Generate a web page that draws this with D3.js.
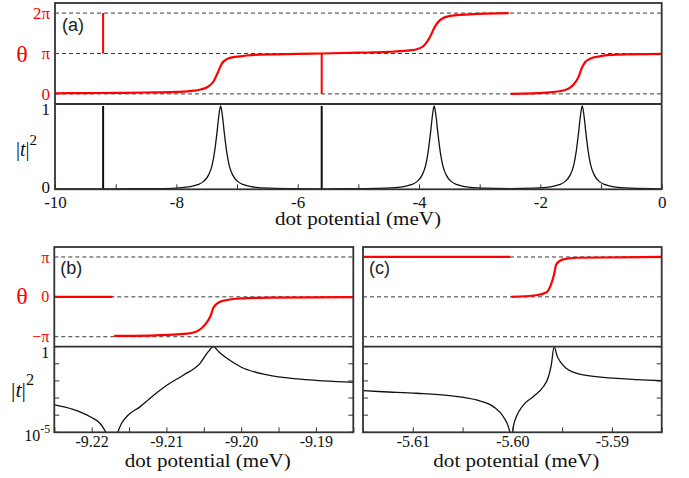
<!DOCTYPE html>
<html><head><meta charset="utf-8">
<script src="https://cdn.jsdelivr.net/npm/d3@7"></script>
</head><body style="margin:0">
<script>
// ---------------- DATA ----------------
// Panel (a): phase θ (units of π) vs dot potential (meV)
const aThetaSeg1 = [[-10,0.015],[-9.5,0.02],[-9,0.025],[-8.5,0.035],[-8,0.05],[-7.7,0.08],[-7.6,0.11],[-7.5,0.16],[-7.39,0.3],[-7.31,0.55],[-7.25,0.75],[-7.17,0.86],[-7.06,0.91],[-6.95,0.93],[-6.84,0.95],[-6.5,0.98],[-6,0.99],[-5.6,1.0],[-5,1.02],[-4.5,1.04],[-4.2,1.07],[-4.05,1.1],[-3.93,1.18],[-3.82,1.41],[-3.74,1.66],[-3.65,1.83],[-3.49,1.93],[-3.16,1.97],[-2.52,2.0]];
const aThetaSeg2 = [[-2.49,0.0],[-1.84,0.04],[-1.57,0.11],[-1.46,0.22],[-1.37,0.42],[-1.32,0.63],[-1.26,0.79],[-1.18,0.87],[-1.02,0.93],[-0.74,0.97],[0,0.99]];
const aThetaJumps = [[[-9.207,1],[-9.207,2]],[[-5.604,0],[-5.604,1]]];
// Panel (a): transmission |t|^2
const aTrans = [[-10,0.004],[-9.5,0.005],[-9,0.006],[-8.5,0.008],[-8.07,0.012],[-7.77,0.032],[-7.65,0.055],[-7.55,0.095],[-7.47,0.17],[-7.41,0.29],[-7.37,0.45],[-7.33,0.68],[-7.30,0.88],[-7.27,1],[-7.24,0.88],[-7.21,0.68],[-7.17,0.45],[-7.13,0.29],[-7.07,0.17],[-6.99,0.095],[-6.89,0.055],[-6.77,0.032],[-6.47,0.013],[-6.0,0.007],[-5.5,0.006],[-5.0,0.008],[-4.55,0.013],[-4.25,0.032],[-4.13,0.055],[-4.03,0.095],[-3.95,0.17],[-3.89,0.29],[-3.85,0.45],[-3.81,0.68],[-3.78,0.88],[-3.75,1],[-3.72,0.88],[-3.69,0.68],[-3.65,0.45],[-3.61,0.29],[-3.55,0.17],[-3.47,0.095],[-3.37,0.055],[-3.25,0.032],[-2.95,0.013],[-2.5,0.008],[-2.11,0.013],[-1.81,0.032],[-1.69,0.055],[-1.59,0.095],[-1.51,0.17],[-1.45,0.29],[-1.41,0.45],[-1.37,0.68],[-1.34,0.88],[-1.31,1],[-1.28,0.88],[-1.25,0.68],[-1.21,0.45],[-1.17,0.29],[-1.11,0.17],[-1.03,0.095],[-0.93,0.055],[-0.81,0.032],[-0.51,0.013],[0,0.006]];
const aFano = [[[-9.207,0],[-9.207,1]],[[-5.604,0],[-5.604,1]]];
const aXTicks = [-10,-8,-6,-4,-2,0];
const aXLabels = ["-10","-8","-6","-4","-2","0"];
const aXMinor = [-9,-7,-5,-3,-1];
const aThetaLevels = [0,1,2];
const aThetaLabels = ["0","\u03c0","2\u03c0"];
const aTLevels = [0,1];
const aTLabels = ["0","1"];

// Panel (b)
const bThetaSeg1 = [[-9.225,0],[-9.2172,0]];
const bThetaSeg2 = [[-9.2170,-0.98],[-9.2122,-0.97],[-9.2077,-0.93],[-9.2059,-0.86],[-9.2048,-0.69],[-9.2041,-0.48],[-9.2037,-0.27],[-9.2030,-0.14],[-9.2019,-0.08],[-9.2001,-0.04],[-9.1961,-0.02],[-9.185,-0.005]];
// log10 |t|^2
const bLogTLeft = [[-9.2250,-3.40],[-9.2225,-3.66],[-9.2202,-4.09],[-9.2189,-4.47],[-9.2184,-4.77],[-9.2180,-5.1]];
const bLogTRight = [[-9.2166,-5.1],[-9.2160,-4.47],[-9.2151,-3.99],[-9.2135,-3.5],[-9.2123,-3.05],[-9.2099,-2.24],[-9.2077,-1.65],[-9.2055,-0.97],[-9.2044,-0.29],[-9.2037,0],[-9.2030,-0.29],[-9.2019,-0.68],[-9.2001,-1.17],[-9.1965,-1.65],[-9.1921,-1.90],[-9.1850,-2.08]];
const bXTicks = [-9.22,-9.21,-9.20,-9.19];
const bXLabels = ["-9.22","-9.21","-9.20","-9.19"];
const bXMinor = [-9.225,-9.215,-9.205,-9.195,-9.185];

// Panel (c)
const cThetaSeg1 = [[-5.615,1],[-5.6002,1]];
const cThetaSeg2 = [[-5.6001,0],[-5.5976,0.04],[-5.5966,0.11],[-5.5961,0.32],[-5.5958,0.57],[-5.5956,0.81],[-5.5949,0.94],[-5.5935,0.98],[-5.585,1.0]];
const cLogTLeft = [[-5.615,-2.57],[-5.613,-2.63],[-5.6096,-2.72],[-5.6063,-2.86],[-5.6036,-3.11],[-5.6019,-3.50],[-5.6009,-4.09],[-5.6004,-4.67],[-5.6002,-5.1]];
const cLogTRight = [[-5.6000,-5.1],[-5.5999,-4.67],[-5.5996,-4.09],[-5.5989,-3.41],[-5.5979,-2.92],[-5.5969,-2.34],[-5.5964,-1.8],[-5.5961,-1.1],[-5.5958,0],[-5.5955,-0.55],[-5.5951,-0.95],[-5.5946,-1.26],[-5.5929,-1.65],[-5.5895,-1.85],[-5.585,-1.99]];
const cXTicks = [-5.61,-5.60,-5.59];
const cXLabels = ["-5.61","-5.60","-5.59"];
const cXMinor = [-5.615,-5.605,-5.595,-5.585];

const bcThetaLevels = [-1,0,1];
const bThetaLabels = ["\u2212\u03c0","0","\u03c0"];
const logTicks = [1e-5,1e-4,1e-3,1e-2,1e-1,1];

// ---------------- DRAW ----------------
(function(){
const W=689,H=478;
const SERIF='"Liberation Serif"', SANS='"Liberation Sans"';
const RED="#ff0000", FR="#333";
const svg=d3.select("body").append("svg").attr("width",W).attr("height",H);
const defs=svg.append("defs");
let clipN=0;
function mkClip(x0,y0,x1,y1){
  const id="cp"+(clipN++);
  defs.append("clipPath").attr("id",id).append("rect")
    .attr("x",x0).attr("y",y0).attr("width",x1-x0).attr("height",y1-y0);
  return "url(#"+id+")";
}
function txt(g,x,y,fs,fill){
  return g.append("text").attr("x",x).attr("y",y).style("font-family",SERIF)
    .attr("font-size",fs).attr("fill",fill||"#111");
}
function drawLine(g,data,x,y,color,w,cp,curve){
  const ln=d3.line().x(d=>x(d[0])).y(d=>y(d[1])).curve(curve||d3.curveMonotoneX);
  g.append("path").attr("d",ln(data)).attr("fill","none").attr("stroke",color)
    .attr("stroke-width",w).attr("clip-path",cp).attr("stroke-linejoin","round");
}
function dashed(g,levels,x,y){
  levels.forEach(v=>{
    g.append("line").attr("x1",x.range()[0]).attr("x2",x.range()[1])
      .attr("y1",y(v)).attr("y2",y(v)).attr("stroke","#222").attr("stroke-width",0.9)
      .attr("stroke-dasharray","4,3");
  });
}
function xAxis(g,x,yb,ticks,labels,minor,pad,fs){
  const ax=g.append("g").attr("transform",`translate(0,${yb})`)
    .call(d3.axisBottom(x).tickValues(ticks).tickFormat((d,i)=>labels[i])
      .tickSizeInner(-5).tickSizeOuter(0).tickPadding(pad));
  ax.select(".domain").remove();
  ax.selectAll("line").attr("stroke",FR).attr("stroke-width",1);
  ax.selectAll("text").style("font-family",SERIF).attr("font-size",fs).attr("fill","#111");
  const mx=g.append("g").attr("transform",`translate(0,${yb})`)
    .call(d3.axisBottom(x).tickValues(minor).tickFormat("").tickSizeInner(-5).tickSizeOuter(0));
  mx.select(".domain").remove();
  mx.selectAll("line").attr("stroke",FR).attr("stroke-width",1);
}
function frameRect(g,x0,y0,x1,y1,ym){
  g.append("rect").attr("x",x0).attr("y",y0).attr("width",x1-x0).attr("height",y1-y0)
    .attr("fill","none").attr("stroke",FR).attr("stroke-width",1.8);
  g.append("line").attr("x1",x0).attr("x2",x1).attr("y1",ym).attr("y2",ym)
    .attr("stroke",FR).attr("stroke-width",1.8);
}
function thetaLabels(g,y,levels,labels,xl,fs){
  const ax=g.append("g").attr("transform",`translate(${xl},0)`)
    .call(d3.axisLeft(y).tickValues(levels).tickFormat((d,i)=>labels[i]).tickSize(0).tickPadding(5));
  ax.select(".domain").remove();
  ax.selectAll("text").style("font-family",SERIF).attr("font-size",fs).attr("fill",RED);
}
function bigTheta(g,x,yb){
  txt(g,x,yb,24,RED).attr("text-anchor","middle").text("\u03b8");
}
function tLabel(g,x,yb,fs){
  const t=txt(g,x,yb,fs);
  t.append("tspan").text("|");
  t.append("tspan").attr("font-style","italic").text("t");
  t.append("tspan").text("|");
  t.append("tspan").attr("dy",-fs*0.55).attr("font-size",fs*0.75).text("2");
}
function axTitle(g,cx,yb){
  txt(g,cx,yb,19).attr("text-anchor","middle")
    .attr("textLength",166).attr("lengthAdjust","spacingAndGlyphs")
    .text("dot potential (meV)");
}
function panelTag(g,x,yb,s){
  g.append("text").attr("x",x).attr("y",yb).style("font-family",SANS)
    .attr("font-size",18).attr("fill","#222").text(s);
}

// ===== Panel (a) =====
const A={l:55,r:661.7,t:3,m:104,b:189.3};
const gA=svg.append("g");
const xA=d3.scaleLinear().domain([-10,0]).range([A.l,A.r]);
const yThA=d3.scaleLinear().domain([-0.25,2.25]).range([A.m,A.t]);
const yTA=d3.scaleLinear().domain([0,1]).range([A.b,106]);
dashed(gA,aThetaLevels,xA,yThA);
const cpA1=mkClip(A.l,A.t,A.r,A.m), cpA2=mkClip(A.l,A.m,A.r,A.b);
drawLine(gA,aThetaSeg1,xA,yThA,RED,2.2,cpA1);
drawLine(gA,aThetaSeg2,xA,yThA,RED,2.2,cpA1);
aThetaJumps.forEach(s=>drawLine(gA,s,xA,yThA,RED,2,cpA1,d3.curveLinear));
drawLine(gA,aTrans,xA,yTA,"#111",1.3,cpA2);
aFano.forEach(s=>drawLine(gA,s,xA,yTA,"#111",2,cpA2,d3.curveLinear));
frameRect(gA,A.l,A.t,A.r,A.b,A.m);
xAxis(gA,xA,A.b,aXTicks,aXLabels,aXMinor,7,17);
thetaLabels(gA,yThA,aThetaLevels,aThetaLabels,A.l,17);
aTLevels.forEach((v,i)=>{
  txt(gA,A.l-5,yTA(v)+(v===1?9:4),17).attr("text-anchor","end").text(aTLabels[i]);
});
bigTheta(gA,22,62);
tLabel(gA,16,156,20);
panelTag(gA,62,31,"(a)");
axTitle(gA,358,225);

// ===== Panels (b) and (c) =====
function lowerPanel(P,dom,thetaSeg,logL,logR,ticks,labels,minor,isB,tag){
  const g=svg.append("g");
  const x=d3.scaleLinear().domain(dom).range([P.l,P.r]);
  const yTh=d3.scaleLinear().domain([-1.25,1.25]).range([P.m,P.t]);
  const yT=d3.scaleLog().domain([1e-5,1]).range([P.b,P.m]);
  dashed(g,bcThetaLevels,x,yTh);
  const cp1=mkClip(P.l,P.t,P.r,P.m), cp2=mkClip(P.l,P.m,P.r,P.b);
  thetaSeg.forEach(s=>drawLine(g,s,x,yTh,RED,2.2,cp1));
  const toT=arr=>arr.map(d=>[d[0],Math.pow(10,d[1])]);
  drawLine(g,toT(logL),x,yT,"#111",1.3,cp2);
  drawLine(g,toT(logR),x,yT,"#111",1.3,cp2);
  frameRect(g,P.l,P.t,P.r,P.b,P.m);
  logTicks.forEach(v=>{
    [[P.l,P.l+5],[P.r,P.r-5]].forEach(s=>{
      g.append("line").attr("x1",s[0]).attr("x2",s[1]).attr("y1",yT(v)).attr("y2",yT(v))
        .attr("stroke",FR).attr("stroke-width",1);
    });
  });
  xAxis(g,x,P.b,ticks,labels,minor,3,16);
  axTitle(g,(P.l+P.r)/2+4,467);
  panelTag(g,P.l+6,274,tag);
  if(isB){
    thetaLabels(g,yTh,bcThetaLevels,bThetaLabels,P.l,16);
    bigTheta(g,22,304);
    tLabel(g,11,397,22);
    txt(g,P.l-5,yT(1)+11,16).attr("text-anchor","end").text("1");
    const t=txt(g,P.l-4,yT(1e-5)+9,16).attr("text-anchor","end");
    t.append("tspan").text("10");
    t.append("tspan").attr("dy",-8).attr("font-size",12).text("-5");
  }
}
lowerPanel({l:54.3,r:353.3,t:247,m:346.7,b:432.3},[-9.225,-9.185],[bThetaSeg1,bThetaSeg2],
  bLogTLeft,bLogTRight,bXTicks,bXLabels,bXMinor,true,"(b)");
lowerPanel({l:363,r:661.7,t:247,m:346.7,b:432.3},[-5.615,-5.585],[cThetaSeg1,cThetaSeg2],
  cLogTLeft,cLogTRight,cXTicks,cXLabels,cXMinor,false,"(c)");
})();
</script>
</body></html>
